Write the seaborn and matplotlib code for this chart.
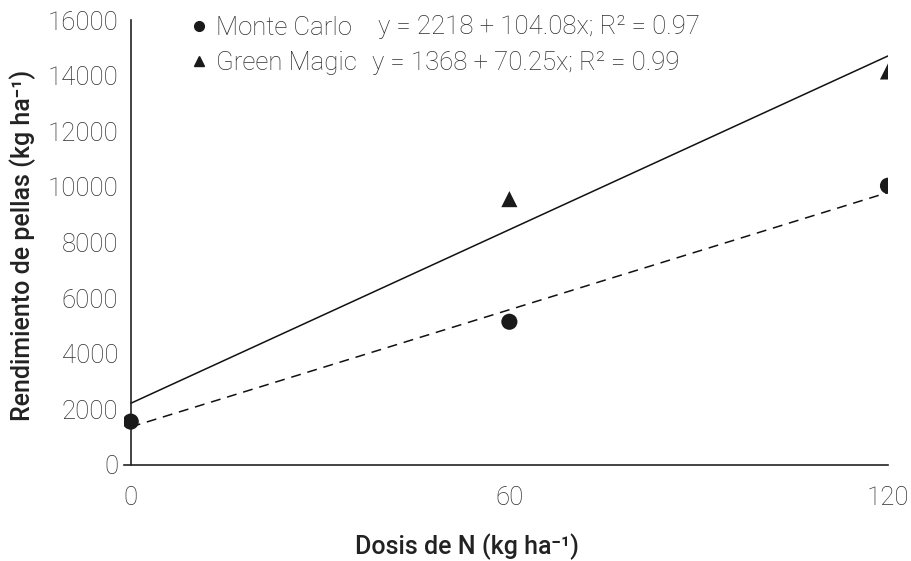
import matplotlib
matplotlib.use('Agg')
import matplotlib.pyplot as plt
from matplotlib.lines import Line2D
import numpy as np
import pandas as pd
import seaborn as sns

# Data (no triangle is visible at N = 0)
dosis = [0, 60, 120]
monte_carlo = [1560, 5150, 10040]
green_magic = [np.nan, 9560, 14150]

# Fitted equations as printed in the chart (intercept, slope, R2)
eq_monte_carlo = (2218, 104.08, 0.97)
eq_green_magic = (1368, 70.25, 0.99)

sns.set_style('white')
plt.rcParams['font.family'] = ['Roboto', 'DejaVu Sans']

points = pd.DataFrame({
    'dosis': dosis * 2,
    'rend': monte_carlo + green_magic,
    'variedad': ['Monte Carlo'] * 3 + ['Green Magic'] * 3,
})

x_fit = np.array([dosis[0], dosis[-1]])
fits = pd.DataFrame({
    'dosis': list(x_fit) * 2,
    'rend': list(eq_monte_carlo[0] + eq_monte_carlo[1] * x_fit)
            + list(eq_green_magic[0] + eq_green_magic[1] * x_fit),
    'variedad': ['Monte Carlo'] * 2 + ['Green Magic'] * 2,
})

txt_color = '#2e2e2e'

fig = plt.figure(figsize=(9.12, 5.61), dpi=100)
ax = fig.add_axes([123.8 / 912, 96 / 561, 764.2 / 912, 445 / 561])

sns.lineplot(data=fits, x='dosis', y='rend', style='variedad',
             dashes={'Monte Carlo': '', 'Green Magic': (6.5, 4.5)},
             color='#111111', linewidth=1.1, legend=False, ax=ax)
sns.scatterplot(data=points, x='dosis', y='rend', style='variedad',
                markers={'Monte Carlo': 'o', 'Green Magic': '^'},
                color='#1a1a1a', s=135, edgecolor='none', legend=False,
                ax=ax, zorder=3)

ax.set_xlim(-1.1, 120)
ax.set_ylim(0, 16000)
ax.set_xticks(dosis)
ax.set_yticks(range(0, 16001, 2000))
ax.spines['left'].set_position(('data', 0))
ax.spines['right'].set_visible(False)
ax.spines['top'].set_visible(False)
for sp in ('left', 'bottom'):
    ax.spines[sp].set_color('#222222')
    ax.spines[sp].set_linewidth(1.2)
ax.tick_params(axis='both', which='both', direction='out', length=6,
               width=1.2, color='#222222', labelsize=18.5, labelcolor=txt_color)
ax.tick_params(axis='x', pad=9)
ax.tick_params(axis='y', pad=3)
for lab in ax.get_xticklabels() + ax.get_yticklabels():
    lab.set_fontweight('light')

ax.set_xlabel('Dosis de N (kg ha⁻¹)', fontsize=18,
              fontweight='medium', color='#222222', va='center')
ax.set_ylabel('Rendimiento de pellas (kg ha⁻¹)', fontsize=18,
              fontweight='medium', color='#222222', va='center')
ax.xaxis.set_label_coords(0.449, -0.184)
ax.yaxis.set_label_coords(-0.132, 0.494)

handles = [
    Line2D([], [], marker='o', linestyle='none', color='#1a1a1a', markersize=7),
    Line2D([], [], marker='^', linestyle='none', color='#1a1a1a', markersize=6.5),
]
leg = ax.legend(handles, ['Monte Carlo', 'Green Magic'], loc='upper left',
                bbox_to_anchor=(0.088, 1.009), frameon=False, borderaxespad=0,
                borderpad=0, handlelength=0.6, handletextpad=0.36,
                labelspacing=0.41,
                prop={'family': 'Roboto', 'weight': 'light', 'size': 18.5})
for t in leg.get_texts():
    t.set_color(txt_color)

eq_text = lambda e: f'y = {e[0]} + {e[1]:.2f}x; R² = {e[2]:.2f}'
ax.text(0.3326, (465 - 27) / 445, eq_text(eq_monte_carlo), transform=ax.transAxes,
        fontsize=18.5, fontweight='light', color=txt_color, va='center')
ax.text(0.3248, (465 - 63) / 445, eq_text(eq_green_magic), transform=ax.transAxes,
        fontsize=18.5, fontweight='light', color=txt_color, va='center')

fig.savefig('out.png', dpi=100)
